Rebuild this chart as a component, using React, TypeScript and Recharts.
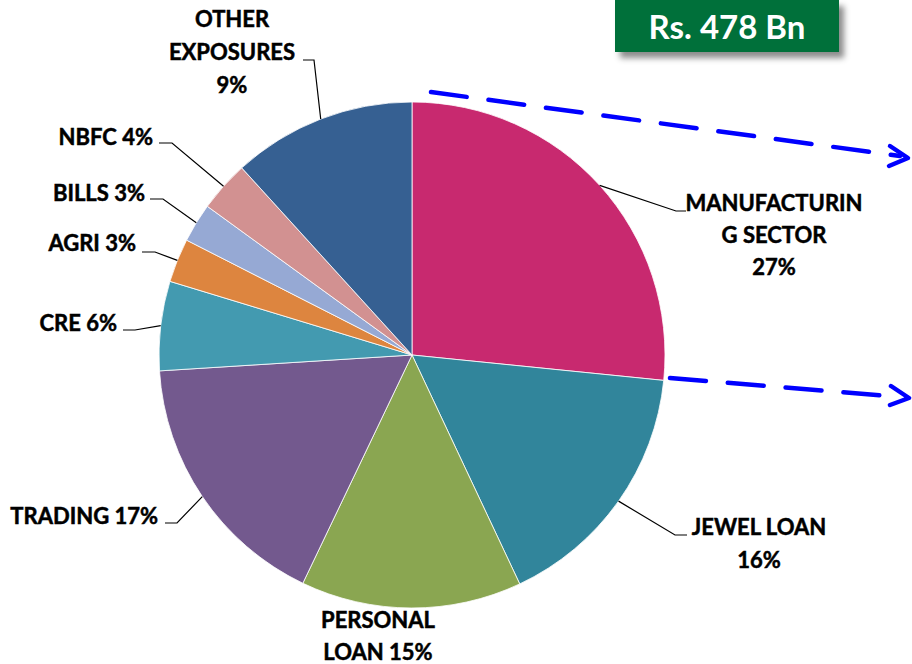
import React from "react";
import { PieChart, Pie, Cell } from "recharts";

// ---- data ----
const categories = [
  "MANUFACTURING SECTOR",
  "JEWEL LOAN",
  "PERSONAL LOAN",
  "TRADING",
  "CRE",
  "AGRI",
  "BILLS",
  "NBFC",
  "OTHER EXPOSURES",
];
// slice sizes
const values = [26.6, 16.4, 14.1, 16.9, 5.7, 2.8, 2.5, 3.25, 11.75];
// percentages printed in the labels
const labelLines: string[][] = [
  ["MANUFACTURIN", "G SECTOR", "27%"],
  ["JEWEL LOAN", "16%"],
  ["PERSONAL", "LOAN 15%"],
  ["TRADING 17%"],
  ["CRE 6%"],
  ["AGRI 3%"],
  ["BILLS 3%"],
  ["NBFC 4%"],
  ["OTHER", "EXPOSURES", "9%"],
];
const totalLabel = "Rs. 478 Bn";

const colors = [
  "#C8296F",
  "#31859B",
  "#8AA651",
  "#73598E",
  "#439AB0",
  "#DD853F",
  "#96A9D4",
  "#D29191",
  "#366092",
];

// label layout (manual placement like the original)
type LabelLayout = {
  elbow?: [number, number];
  end?: [number, number];
  x: number;
  y: number;
  anchor: "start" | "middle" | "end";
  lh: number;
};
const labelLayout: LabelLayout[] = [
  { elbow: [676, 211], end: [686, 211], x: 774, y: 211, anchor: "middle", lh: 32 },
  { elbow: [675, 535], end: [687, 535], x: 759, y: 535, anchor: "middle", lh: 33 },
  { x: 378, y: 628, anchor: "middle", lh: 32 },
  { elbow: [177, 523], end: [165, 523], x: 158, y: 524, anchor: "end", lh: 32 },
  { elbow: [135, 330], end: [123, 330], x: 117, y: 331, anchor: "end", lh: 32 },
  { elbow: [155, 252], end: [142, 252], x: 136, y: 251, anchor: "end", lh: 32 },
  { elbow: [163, 199], end: [150, 199], x: 145, y: 201, anchor: "end", lh: 32 },
  { elbow: [172, 143], end: [159, 143], x: 153, y: 145, anchor: "end", lh: 32 },
  { elbow: [314, 60], end: [303, 60], x: 232, y: 27, anchor: "middle", lh: 33 },
];

const data = categories.map((name, i) => ({ name, value: values[i] }));

const FONT = "Lato, 'Open Sans', sans-serif";
const RAD = Math.PI / 180;

const renderLabel = (props: any) => {
  const { cx, cy, midAngle, outerRadius, index } = props;
  const layout = labelLayout[index];
  const lines = labelLines[index];
  const sx = cx + Math.cos(-midAngle * RAD) * outerRadius;
  const sy = cy + Math.sin(-midAngle * RAD) * outerRadius;
  return (
    <g key={`lbl-${index}`}>
      {layout.elbow && layout.end && (
        <polyline
          points={`${sx},${sy} ${layout.elbow[0]},${layout.elbow[1]} ${layout.end[0]},${layout.end[1]}`}
          fill="none"
          stroke="#000"
          strokeWidth={1.2}
        />
      )}
      <text
        x={layout.x}
        y={layout.y}
        textAnchor={layout.anchor}
        fontFamily={FONT}
        fontWeight={700}
        fontSize={22}
        fill="#000"
        stroke="#000"
        strokeWidth={0.5}
      >
        {lines.map((l, k) => (
          <tspan key={k} x={layout.x} y={layout.y + k * layout.lh}>
            {l}
          </tspan>
        ))}
      </text>
    </g>
  );
};

export default function App() {
  return (
    <div style={{ position: "absolute", left: 0, top: 0, width: 912, height: 664, background: "#fff" }}>
      <PieChart width={912} height={664} margin={{ top: 0, right: 0, bottom: 0, left: 0 }}>
        <Pie
          data={data}
          dataKey="value"
          nameKey="name"
          cx={412}
          cy={355}
          outerRadius={253}
          startAngle={90}
          endAngle={-270}
          stroke="#ffffff"
          strokeWidth={0.8}
          label={renderLabel}
          labelLine={false}
          isAnimationActive={false}
        >
          {data.map((d, i) => (
            <Cell key={d.name} fill={colors[i]} />
          ))}
        </Pie>
      </PieChart>
      <svg
        width={912}
        height={664}
        style={{ position: "absolute", left: 0, top: 0, pointerEvents: "none" }}
      >
        <g stroke="#0000FF" strokeWidth={4.5} strokeLinecap="round" fill="none">
          <line x1={431} y1={92} x2={900} y2={156} strokeDasharray="36 22" />
          <polyline points="890,146 908,158 889,166" strokeLinejoin="round" />
          <line x1={670} y1={378} x2={900} y2={397} strokeDasharray="36 22" />
          <polyline points="891,386 909,398 890,405" strokeLinejoin="round" />
        </g>
      </svg>
      <div
        style={{
          position: "absolute",
          left: 615,
          top: 0,
          width: 224,
          height: 52,
          background: "#00703A",
          boxShadow: "5px 6px 6px rgba(0,0,0,0.45)",
          color: "#fff",
          fontFamily: FONT,
          fontWeight: 700,
          fontSize: 33,
          display: "flex",
          alignItems: "center",
          justifyContent: "center",
        }}
      >
        {totalLabel}
      </div>
    </div>
  );
}
